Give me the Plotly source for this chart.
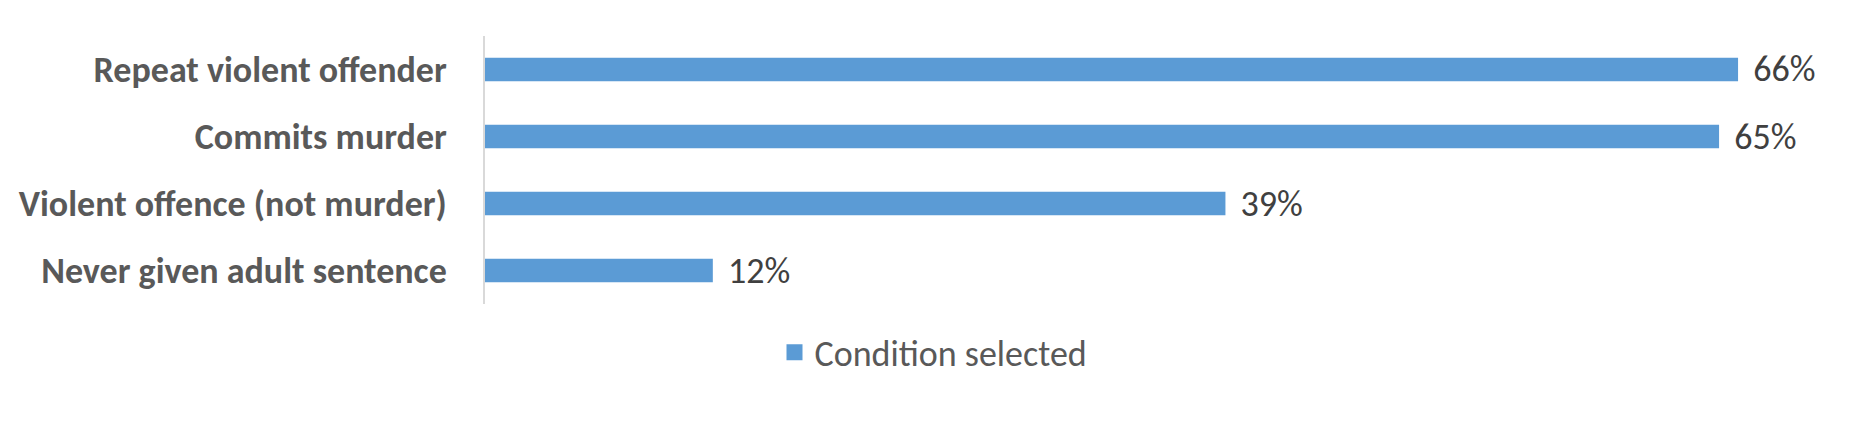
import plotly.graph_objects as go

categories = [
    "Repeat violent offender",
    "Commits murder",
    "Violent offence (not murder)",
    "Never given adult sentence",
]
values = [66, 65, 39, 12]
series_name = "Condition selected"

BAR_COLOUR = "#5b9bd5"
FONT = "Calibri, Carlito, Lato, sans-serif"

fig = go.Figure()
fig.add_trace(go.Bar(
    x=values,
    y=categories,
    orientation="h",
    name=series_name,
    showlegend=False,
    marker=dict(color=BAR_COLOUR, line=dict(width=0)),
    text=values,
    texttemplate="\u2004%{x}%",
    textposition="outside",
    constraintext="none",
    textfont=dict(family=FONT, size=36, color="#404040"),
    cliponaxis=False,
    hoverinfo="skip",
))
# legend-only entry so the key gets a bigger square like the original
fig.add_trace(go.Scatter(
    x=[None], y=[None],
    mode="markers",
    name=series_name,
    marker=dict(symbol="square", size=18, color=BAR_COLOUR),
    hoverinfo="skip",
))

fig.update_layout(
    width=1851,
    height=433,
    margin=dict(l=477, r=45, t=28, b=137),
    paper_bgcolor="white",
    plot_bgcolor="white",
    bargap=0.65,
    showlegend=True,
    legend=dict(
        orientation="h",
        xref="container", yref="container",
        x=0.50, y=0.205,
        xanchor="center", yanchor="middle",
        itemwidth=30,
        font=dict(family=FONT, size=36, color="#595959"),
    ),
    font=dict(family=FONT),
)

fig.update_xaxes(range=[0, 70], visible=False, fixedrange=True)
fig.update_yaxes(
    categoryorder="array",
    categoryarray=categories[::-1],
    showline=True,
    linecolor="#d9d9d9",
    linewidth=2,
    ticks="",
    ticklabelstandoff=29,
    showgrid=False,
    tickfont=dict(family=FONT, size=36, color="#595959", weight="bold"),
    fixedrange=True,
)

fig.write_html("out.html")
